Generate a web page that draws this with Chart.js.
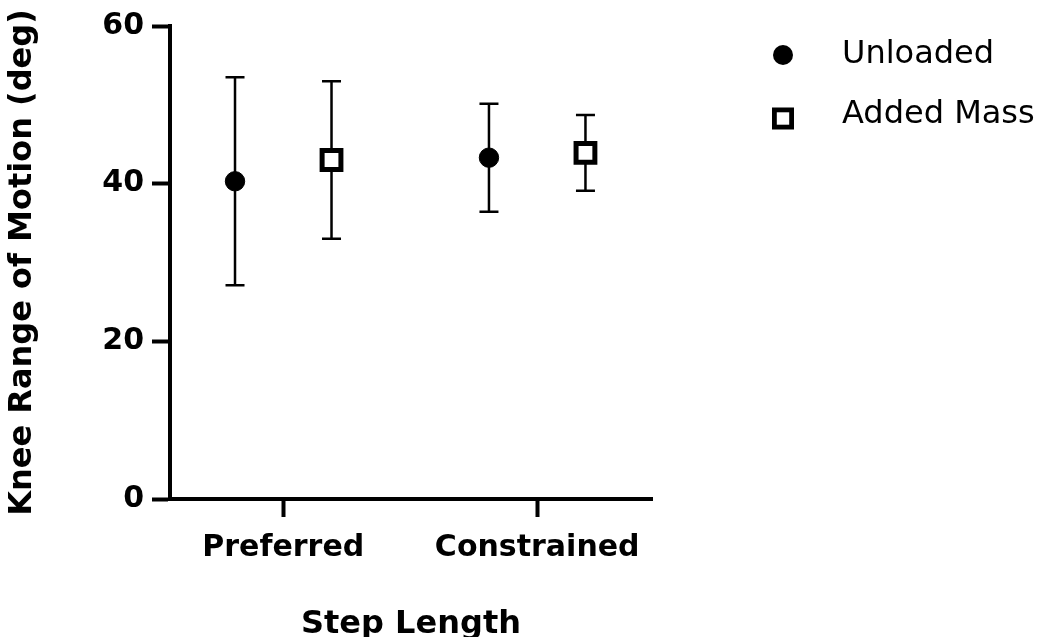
<!DOCTYPE html>
<html>
<head>
<meta charset="utf-8">
<script src="https://cdn.jsdelivr.net/npm/chart.js@4.4.0/dist/chart.umd.min.js"></script>
<style>
  html, body { margin: 0; padding: 0; background: #fff; }
  #wrap { width: 1052px; height: 637px; }
</style>
</head>
<body>
<div id="wrap"><canvas id="kneeChart" width="1052" height="637"></canvas></div>
<script>
// Knee range of motion by step length, mean +/- SD
const categories = ["Preferred", "Constrained"];
const yTicks = [0, 20, 40, 60];
const unloadedMean = [40.3, 43.3];
const unloadedSD = [13.2, 6.85];
const addedMassMean = [43.0, 43.9];
const addedMassSD = [10.0, 4.8];

const dodge = 0.19;

function toPoints(means, shift) {
  return means.map((m, i) => ({ x: i + 1 + shift, y: m }));
}

Chart.defaults.font.family = "'DejaVu Sans', sans-serif";
Chart.defaults.color = "#000";

// error bars go under the markers
const errorBars = {
  id: "errorBars",
  beforeDatasetsDraw(chart) {
    const ctx = chart.ctx;
    const xs = chart.scales.x, ys = chart.scales.y;
    ctx.save();
    ctx.strokeStyle = "#000";
    ctx.lineWidth = 2.5;
    chart.data.datasets.forEach(ds => {
      ds.data.forEach((p, i) => {
        const sd = ds.sd[i];
        const px = xs.getPixelForValue(p.x);
        const top = ys.getPixelForValue(p.y + sd);
        const bot = ys.getPixelForValue(p.y - sd);
        ctx.beginPath();
        ctx.moveTo(px, top); ctx.lineTo(px, bot);
        ctx.moveTo(px - 9.5, top); ctx.lineTo(px + 9.5, top);
        ctx.moveTo(px - 9.5, bot); ctx.lineTo(px + 9.5, bot);
        ctx.stroke();
      });
    });
    ctx.restore();
  }
};

// legend off to the right of the plot
const sideLegend = {
  id: "sideLegend",
  afterDraw(chart) {
    const ctx = chart.ctx;
    const markerY = [55, 118.5];
    const textY = [54.5, 114.5];
    ctx.save();
    chart.data.datasets.forEach((ds, i) => {
      const cx = 783, cy = markerY[i];
      ctx.strokeStyle = "#000";
      if (ds.pointStyle === "circle") {
        ctx.beginPath();
        ctx.arc(cx, cy, 10, 0, Math.PI * 2);
        ctx.fillStyle = "#000";
        ctx.fill();
      } else {
        ctx.fillStyle = "#fff";
        ctx.lineWidth = 4.8;
        ctx.fillRect(cx - 8.6, cy - 8.6, 17.2, 17.2);
        ctx.strokeRect(cx - 8.6, cy - 8.6, 17.2, 17.2);
      }
      ctx.fillStyle = "#000";
      ctx.font = "32px 'DejaVu Sans'";
      ctx.textBaseline = "middle";
      ctx.textAlign = "left";
      ctx.fillText(ds.label, 842, textY[i]);
    });
    ctx.restore();
  }
};

new Chart(document.getElementById("kneeChart"), {
  type: "scatter",
  data: {
    datasets: [
      {
        label: "Unloaded",
        data: toPoints(unloadedMean, -dodge),
        sd: unloadedSD,
        pointStyle: "circle",
        pointRadius: 9.7,
        pointBorderWidth: 1,
        backgroundColor: "#000",
        borderColor: "#000"
      },
      {
        label: "Added Mass",
        data: toPoints(addedMassMean, dodge),
        sd: addedMassSD,
        pointStyle: "rect",
        pointRadius: 13.3,
        pointBorderWidth: 5,
        backgroundColor: "#fff",
        borderColor: "#000"
      }
    ]
  },
  options: {
    responsive: false,
    animation: false,
    devicePixelRatio: 1,
    layout: { padding: { top: 20, right: 400, left: 0, bottom: 0 } },
    plugins: { legend: { display: false }, tooltip: { enabled: false } },
    scales: {
      x: {
        type: "linear",
        min: 0.554,
        max: 2.452,
        afterBuildTicks: s => { s.ticks = categories.map((c, i) => ({ value: i + 1 })); },
        afterFit: s => { s.height = 138; },
        ticks: {
          callback: v => categories[v - 1],
          font: { size: 30, weight: "bold" },
          color: "#000",
          padding: 13,
          maxRotation: 0
        },
        grid: { drawOnChartArea: false, tickLength: 18, tickWidth: 4, tickColor: "#000" },
        border: { width: 4, color: "#000" },
        title: {
          display: true,
          text: "Step Length",
          font: { size: 32, weight: "bold", lineHeight: 0.8 },
          color: "#000",
          padding: { top: 0, bottom: 0 }
        }
      },
      y: {
        min: 0,
        max: 60,
        afterBuildTicks: s => { s.ticks = yTicks.map(v => ({ value: v })); },
        afterFit: s => { s.width = 170; },
        ticks: {
          font: { size: 30, weight: "bold" },
          color: "#000",
          padding: 8
        },
        grid: { drawOnChartArea: false, tickLength: 18, tickWidth: 4, tickColor: "#000" },
        border: { width: 4, color: "#000" },
        title: {
          display: true,
          text: "Knee Range of Motion (deg)",
          font: { size: 32, weight: "bold", lineHeight: 1 },
          color: "#000",
          padding: { top: 6.5, bottom: 0 }
        }
      }
    }
  },
  plugins: [errorBars, sideLegend]
});
</script>
</body>
</html>
